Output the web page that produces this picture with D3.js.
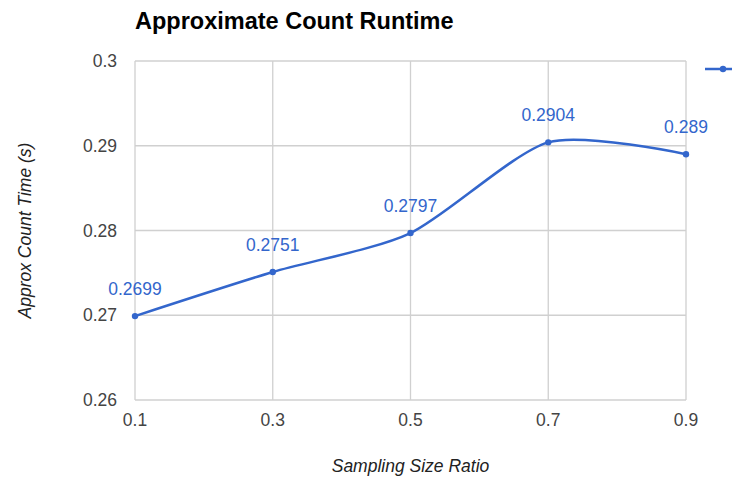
<!DOCTYPE html>
<html>
<head>
<meta charset="utf-8">
<script src="https://cdn.jsdelivr.net/npm/d3@7"></script>
<style>
  body { margin: 0; background: #fff; }
  svg { font-family: "Liberation Sans", Arial, sans-serif; }
</style>
</head>
<body>
<div id="chart"></div>
<script>
const ratios = [0.1, 0.3, 0.5, 0.7, 0.9];
const times = [0.2699, 0.2751, 0.2797, 0.2904, 0.289];
const xTicks = [0.1, 0.3, 0.5, 0.7, 0.9];
const yTicks = [0.26, 0.27, 0.28, 0.29, 0.3];

const W = 732, H = 480;
const margin = {top: 61, right: 46, bottom: 80, left: 135};

const svg = d3.select("#chart")
    .append("svg")
    .attr("width", W)
    .attr("height", H);

const x = d3.scaleLinear()
    .domain([0.1, 0.9])
    .range([margin.left, W - margin.right]);

const y = d3.scaleLinear()
    .domain([0.26, 0.3])
    .range([H - margin.bottom, margin.top]);

// grid
svg.append("g")
    .selectAll("line")
    .data(yTicks)
    .enter()
    .append("line")
    .attr("x1", x.range()[0])
    .attr("x2", x.range()[1])
    .attr("y1", d => y(d))
    .attr("y2", d => y(d))
    .attr("stroke", "#d0d0d0")
    .attr("stroke-width", 1.3);

svg.append("g")
    .selectAll("line")
    .data(xTicks)
    .enter()
    .append("line")
    .attr("x1", d => x(d))
    .attr("x2", d => x(d))
    .attr("y1", y.range()[0])
    .attr("y2", y.range()[1])
    .attr("stroke", "#d0d0d0")
    .attr("stroke-width", 1.3);

// tick labels
svg.append("g")
    .selectAll("text")
    .data(yTicks)
    .enter()
    .append("text")
    .attr("x", margin.left - 18)
    .attr("y", d => y(d) + 6)
    .attr("text-anchor", "end")
    .style("font-size", "17.5px")
    .style("fill", "#444")
    .text(d => d);

svg.append("g")
    .selectAll("text")
    .data(xTicks)
    .enter()
    .append("text")
    .attr("x", d => x(d))
    .attr("y", y.range()[0] + 26)
    .attr("text-anchor", "middle")
    .style("font-size", "17.5px")
    .style("fill", "#444")
    .text(d => d);

// title and axis titles
svg.append("text")
    .attr("x", margin.left)
    .attr("y", 29)
    .style("font-size", "23.5px")
    .style("font-weight", "bold")
    .style("fill", "#000")
    .text("Approximate Count Runtime");

svg.append("text")
    .attr("x", (x.range()[0] + x.range()[1]) / 2)
    .attr("y", 472)
    .attr("text-anchor", "middle")
    .style("font-size", "17.5px")
    .style("font-style", "italic")
    .style("fill", "#222")
    .text("Sampling Size Ratio");

svg.append("text")
    .attr("transform", `translate(31,${(y.range()[0] + y.range()[1]) / 2}) rotate(-90)`)
    .attr("text-anchor", "middle")
    .style("font-size", "17.5px")
    .style("font-style", "italic")
    .style("fill", "#222")
    .text("Approx Count Time (s)");

// line
const pts = ratios.map((r, i) => ({r: r, t: times[i]}));
const line = d3.line()
    .x(d => x(d.r))
    .y(d => y(d.t))
    .curve(d3.curveCardinal.tension(0.25));

svg.append("path")
    .datum(pts)
    .attr("d", line)
    .attr("fill", "none")
    .attr("stroke", "#3366cc")
    .attr("stroke-width", 2.5);

svg.append("g")
    .selectAll("circle")
    .data(pts)
    .enter()
    .append("circle")
    .attr("cx", d => x(d.r))
    .attr("cy", d => y(d.t))
    .attr("r", 3.2)
    .attr("fill", "#3366cc");

svg.append("g")
    .selectAll("text")
    .data(pts)
    .enter()
    .append("text")
    .attr("x", d => x(d.r))
    .attr("y", d => y(d.t) - 21)
    .attr("text-anchor", "middle")
    .style("font-size", "17.5px")
    .style("fill", "#3366cc")
    .text(d => d.t);

// legend marker (label is cut off at the edge)
const lg = svg.append("g");
lg.append("line")
    .attr("x1", 705).attr("x2", 735)
    .attr("y1", 69).attr("y2", 69)
    .attr("stroke", "#3366cc")
    .attr("stroke-width", 2.5);
lg.append("circle")
    .attr("cx", 723).attr("cy", 69).attr("r", 3.2)
    .attr("fill", "#3366cc");
</script>
</body>
</html>
